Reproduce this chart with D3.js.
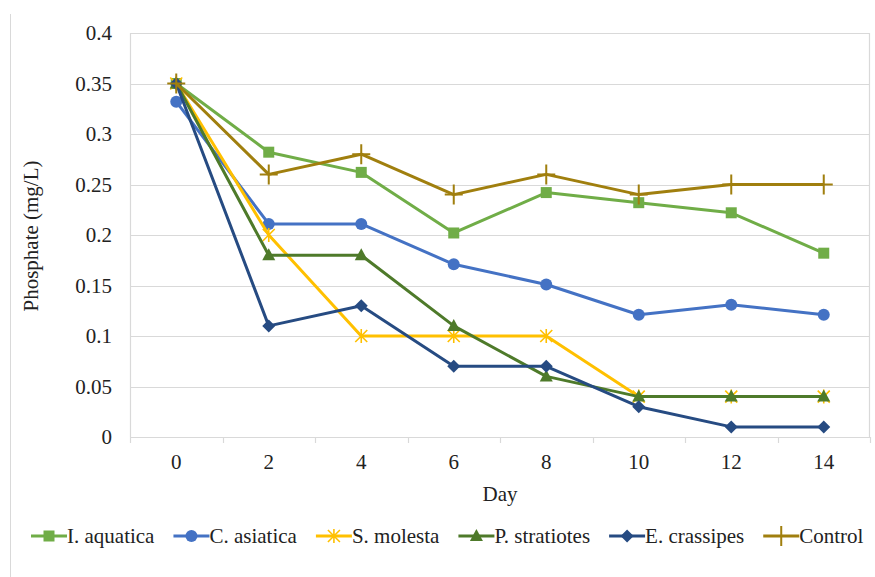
<!DOCTYPE html>
<html><head><meta charset="utf-8">
<script src="https://cdn.jsdelivr.net/npm/d3@7"></script>
<style>body{margin:0;background:#fff}svg{display:block}text{font-family:"Liberation Serif",Tinos,"Times New Roman",Times,"DejaVu Serif",serif !important;fill:#222}</style>
</head><body><svg id="c" width="875" height="577"></svg>
<script>
const days = ["0","2","4","6","8","10","12","14"];
const yTicks = [0,0.05,0.1,0.15,0.2,0.25,0.3,0.35,0.4];
const seriesNames = ["I. aquatica","C. asiatica","S. molesta","P. stratiotes","E. crassipes","Control"];
const iAquatica   = [0.35,0.282,0.262,0.202,0.242,0.232,0.222,0.182];
const cAsiatica   = [0.332,0.211,0.211,0.171,0.151,0.121,0.131,0.121];
const sMolesta    = [0.35,0.20,0.10,0.10,0.10,0.04,0.04,0.04];
const pStratiotes = [0.35,0.18,0.18,0.11,0.06,0.04,0.04,0.04];
const eCrassipes  = [0.35,0.11,0.13,0.07,0.07,0.03,0.01,0.01];
const control     = [0.35,0.26,0.28,0.24,0.26,0.24,0.25,0.25];
const colors = ["#70AD47","#4472C4","#FFC000","#4E7A2A","#264B82","#A07F0E"];
const markers = ["square","circle","asterisk","triangle","diamond","plus"];
const values = [iAquatica,cAsiatica,sMolesta,pStratiotes,eCrassipes,control];

const svg = d3.select("#c");
const L=130,R=870,T=33,B=437;
const FS = "21px";
const x = d3.scaleBand().domain(days).range([L,R]);
const y = d3.scaleLinear().domain([0,0.4]).range([B,T]);
const grid="#d9d9d9";

svg.append("line").attr("x1",10.5).attr("x2",10.5).attr("y1",14).attr("y2",577).attr("stroke",grid);

svg.append("g").selectAll("line").data(yTicks).join("line")
  .attr("x1",L).attr("x2",R).attr("y1",d=>Math.round(y(d))+0.5).attr("y2",d=>Math.round(y(d))+0.5)
  .attr("stroke",grid).attr("stroke-width",1.2);
svg.append("line").attr("x1",L+0.5).attr("x2",L+0.5).attr("y1",T).attr("y2",B).attr("stroke",grid).attr("stroke-width",1.2);
svg.append("line").attr("x1",R-0.5).attr("x2",R-0.5).attr("y1",T).attr("y2",B).attr("stroke",grid).attr("stroke-width",1.2);

const yAxis = d3.axisLeft(y).tickValues(yTicks).tickFormat(d=>String(+d.toFixed(2))).tickSize(0).tickPadding(18);
const yg = svg.append("g").attr("transform",`translate(${L},0)`).call(yAxis);
yg.select(".domain").remove();
yg.attr("font-family",null).attr("font-size",null);
yg.selectAll("text").style("font-size",FS).attr("fill","#222");

const xg = svg.append("g").attr("transform",`translate(0,${B})`).call(d3.axisBottom(x).tickSize(0).tickPadding(17));
xg.select(".domain").remove();
xg.attr("font-family",null).attr("font-size",null);
xg.selectAll("text").style("font-size",FS).attr("fill","#222");
const bounds = days.map(d=>x(d)).concat([R]);
svg.append("g").selectAll("line").data(bounds).join("line")
  .attr("x1",d=>Math.round(d)+0.5).attr("x2",d=>Math.round(d)+0.5).attr("y1",B).attr("y2",B+6).attr("stroke",grid).attr("stroke-width",1.2);

svg.append("text").attr("x",500).attr("y",501).attr("text-anchor","middle").style("font-size",FS).text("Day");
svg.append("text").attr("transform","translate(38,236) rotate(-90)").attr("text-anchor","middle").style("font-size",FS).text("Phosphate (mg/L)");

function drawMarker(g, type, color, cx, cy){
  if(type==="square") g.append("rect").attr("x",cx-5.5).attr("y",cy-5.5).attr("width",11).attr("height",11).attr("fill",color);
  else if(type==="circle") g.append("circle").attr("cx",cx).attr("cy",cy).attr("r",6).attr("fill",color);
  else if(type==="diamond") g.append("path").attr("d",`M${cx},${cy-6.5}L${cx+6.5},${cy}L${cx},${cy+6.5}L${cx-6.5},${cy}Z`).attr("fill",color);
  else if(type==="triangle") g.append("path").attr("d",`M${cx},${cy-7}L${cx+6.5},${cy+5}L${cx-6.5},${cy+5}Z`).attr("fill",color);
  else if(type==="asterisk") g.append("path").attr("d",`M${cx-6},${cy-6}L${cx+6},${cy+6}M${cx+6},${cy-6}L${cx-6},${cy+6}M${cx},${cy-7}L${cx},${cy+7}`).attr("stroke",color).attr("stroke-width",1.6).attr("fill","none");
  else if(type==="plus") g.append("path").attr("d",`M${cx-9},${cy}L${cx+9},${cy}M${cx},${cy-10}L${cx},${cy+10}`).attr("stroke",color).attr("stroke-width",2).attr("fill","none");
}

const line = d3.line().x((d,i)=>x(days[i])+x.bandwidth()/2).y(d=>y(d));
values.forEach((vals,si)=>{
  const g = svg.append("g");
  g.append("path").datum(vals).attr("d",line).attr("fill","none").attr("stroke",colors[si]).attr("stroke-width",3).attr("stroke-linejoin","round");
  vals.forEach((v,i)=>drawMarker(g, markers[si], colors[si], x(days[i])+x.bandwidth()/2, y(v)));
});

const lg = svg.append("g");
let cx = 31; const ly = 536; const LL = 36;
seriesNames.forEach((n,si)=>{
  lg.append("line").attr("x1",cx).attr("x2",cx+LL).attr("y1",ly).attr("y2",ly).attr("stroke",colors[si]).attr("stroke-width",3);
  drawMarker(lg, markers[si], colors[si], cx+LL/2, ly);
  const t = lg.append("text").attr("x",cx+LL).attr("y",ly+7).style("font-size",FS).text(n);
  cx += LL + t.node().getComputedTextLength() + 19;
});
</script></body></html>
